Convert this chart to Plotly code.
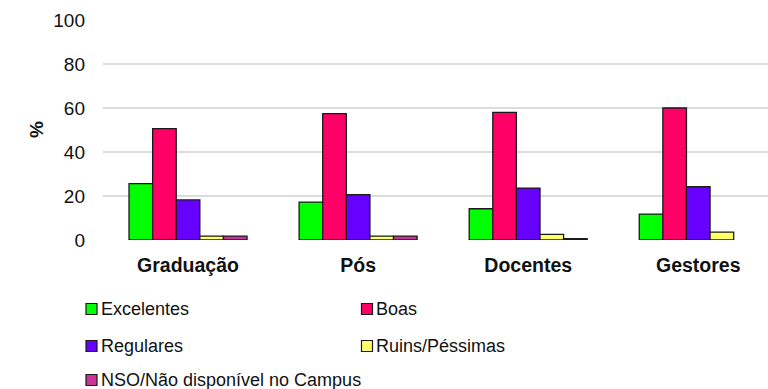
import plotly.graph_objects as go

# Survey results (%) by respondent group
categories = ["Graduação", "Pós", "Docentes", "Gestores"]
series_names = ["Excelentes", "Boas", "Regulares", "Ruins/Péssimas", "NSO/Não disponível no Campus"]
excelentes = [25.6, 17.2, 14.2, 11.8]
boas = [50.6, 57.4, 58.0, 60.0]
regulares = [18.2, 20.6, 23.6, 24.2]
ruins = [1.8, 1.8, 2.6, 3.6]
nso = [1.8, 1.8, 0.6, None]
y_ticks = [0, 20, 40, 60, 80, 100]

series_values = [excelentes, boas, regulares, ruins, nso]
colors = ["#00FF00", "#FF0066", "#6600FF", "#FFFF66", "#CC3399"]

FONT = "Liberation Sans, Arial, sans-serif"
W, H = 768, 389
PLOT_L, PLOT_R, PLOT_T, PLOT_B = 103, 768, 20, 240
pw, ph = PLOT_R - PLOT_L, PLOT_B - PLOT_T

fig = go.Figure()
for name, vals, col in zip(series_names, series_values, colors):
    fig.add_trace(go.Bar(
        x=categories, y=vals, name=name,
        marker=dict(color=col, line=dict(color="#1a1a1a", width=1.3)),
        showlegend=False,
    ))


def px_x(x):
    return (x - PLOT_L) / pw


def px_y(y):
    return (PLOT_B - y) / ph


# Two-column legend built from the series names
legend_slots = [(91.5, 309), (367, 309), (91.5, 346), (367, 346), (91.5, 380)]
half = 5.5
for (cx, cy), name, col in zip(legend_slots, series_names, colors):
    fig.add_shape(
        type="rect", xref="paper", yref="paper",
        x0=px_x(cx - half), x1=px_x(cx + half),
        y0=px_y(cy + half), y1=px_y(cy - half),
        fillcolor=col, line=dict(color="#1a1a1a", width=1.2),
    )
    fig.add_annotation(
        xref="paper", yref="paper", x=px_x(cx + half + 1.5), y=px_y(cy),
        text=name, showarrow=False, xanchor="left", yanchor="middle",
        font=dict(family=FONT, size=18, color="#111"),
    )

# Axis title
fig.add_annotation(
    xref="paper", yref="paper", x=px_x(36), y=px_y(130),
    text="<b>%</b>", showarrow=False, textangle=-90,
    xanchor="center", yanchor="middle",
    font=dict(family=FONT, size=19, color="#111"),
)

fig.update_layout(
    width=W, height=H,
    margin=dict(l=PLOT_L, r=W - PLOT_R, t=PLOT_T, b=H - PLOT_B, pad=0),
    paper_bgcolor="white", plot_bgcolor="white",
    barmode="group", bargap=0.306, bargroupgap=0,
    font=dict(family=FONT, color="#111"),
    showlegend=False,
)
fig.update_xaxes(
    range=[-0.5, 3.41], showgrid=False, showline=False, zeroline=False,
    ticks="", tickfont=dict(family=FONT, size=19.5, color="#111", weight="bold"),
    ticklabelstandoff=11,
)
fig.update_yaxes(
    range=[0, 100], tickvals=y_ticks, showgrid=True, gridcolor="#dcdcdc",
    gridwidth=1.5, zeroline=False, showline=False, ticks="",
    tickfont=dict(family=FONT, size=19, color="#111"),
    ticklabelstandoff=17,
)

fig.write_html("out.html")
